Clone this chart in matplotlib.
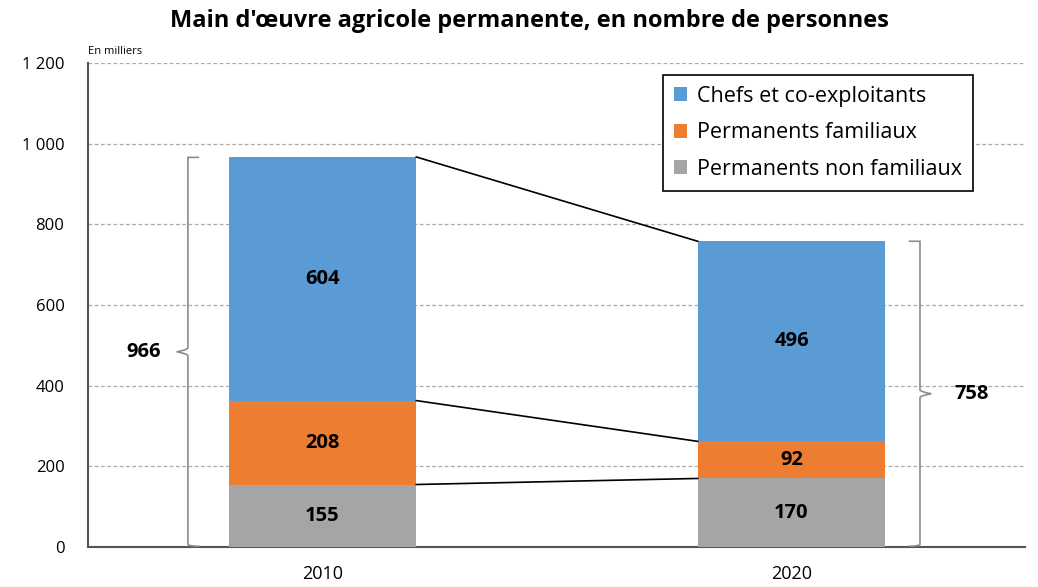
import matplotlib.pyplot as plt
from matplotlib.path import Path
from matplotlib.patches import PathPatch

plt.rcParams['font.family'] = ['Open Sans', 'DejaVu Sans']

years = ['2010', '2020']
chefs = [604, 496]
familiaux = [208, 92]
non_familiaux = [155, 170]
totals = [966, 758]
series_names = ['Chefs et co-exploitants', 'Permanents familiaux', 'Permanents non familiaux']
colors = ['#5B9BD5', '#ED7D31', '#A5A5A5']

fig = plt.figure(figsize=(10.38, 5.87), dpi=100)
ax = fig.add_axes([0.0848, 0.0681, 0.9027, 0.8246])

x = [0, 1]
w = 0.4
b1 = non_familiaux
b2 = [a + b for a, b in zip(non_familiaux, familiaux)]
ax.bar(x, non_familiaux, w, color=colors[2], label=series_names[2], zorder=3)
ax.bar(x, familiaux, w, bottom=b1, color=colors[1], label=series_names[1], zorder=3)
ax.bar(x, chefs, w, bottom=b2, color=colors[0], label=series_names[0], zorder=3)

# valeurs dans les barres
for i in range(2):
    ax.text(x[i], non_familiaux[i] / 2, str(non_familiaux[i]), ha='center', va='center',
            fontsize=14.5, fontweight='bold', zorder=4)
    ax.text(x[i], b1[i] + familiaux[i] / 2, str(familiaux[i]), ha='center', va='center',
            fontsize=14.5, fontweight='bold', zorder=4)
    ax.text(x[i], b2[i] + chefs[i] / 2, str(chefs[i]), ha='center', va='center',
            fontsize=14.5, fontweight='bold', zorder=4)

# lignes de liaison entre les barres
tops0 = [non_familiaux[0], b2[0], b2[0] + chefs[0]]
tops1 = [non_familiaux[1], b2[1], b2[1] + chefs[1]]
for t0, t1 in zip(tops0, tops1):
    ax.plot([x[0] + w / 2, x[1] - w / 2], [t0, t1], color='black', lw=1.2, zorder=4)


def brace(xb, y0, y1, d, tip, cw=5):
    # d : décalage des extrémités (vers la barre), tip : pointe (vers l'extérieur)
    ym = (y0 + y1) / 2
    c = cw
    verts = [(xb + d, y0), (xb, y0), (xb, y0 + c), (xb, y0 + 2 * c),
             (xb, ym - 2 * c), (xb, ym - c), (xb + tip, ym),
             (xb, ym + c), (xb, ym + 2 * c),
             (xb, y1 - 2 * c), (xb, y1 - c), (xb, y1), (xb + d, y1)]
    codes = [Path.MOVETO, Path.CURVE3, Path.CURVE3, Path.LINETO,
             Path.LINETO, Path.CURVE3, Path.CURVE3,
             Path.CURVE3, Path.CURVE3,
             Path.LINETO, Path.CURVE3, Path.CURVE3, Path.LINETO]
    ax.add_patch(PathPatch(Path(verts, codes), fill=False, edgecolor='#8c8c8c', lw=1.2, zorder=4))


brace(-0.287, 2, totals[0], 0.024, -0.024)
brace(1.274, 2, totals[1], -0.024, 0.024)
ax.text(-0.381, totals[0] / 2, str(totals[0]), ha='center', va='center', fontsize=14.5, fontweight='bold')
ax.text(1.385, totals[1] / 2, str(totals[1]), ha='center', va='center', fontsize=14.5, fontweight='bold')

ax.set_xlim(-0.5, 1.498)
ax.set_ylim(0, 1200)
ax.set_xticks(x)
ax.set_xticklabels(years, fontsize=13)
ax.set_yticks(range(0, 1201, 200))
ax.set_yticklabels(['0', '200', '400', '600', '800', '1 000', '1 200'], fontsize=12)
ax.tick_params(axis='x', length=0, pad=13)
ax.tick_params(axis='y', length=0, pad=17)
ax.yaxis.grid(True, linestyle=(0, (3, 2)), color='#aaaaaa', lw=0.9, zorder=0)
for s in ['top', 'right']:
    ax.spines[s].set_visible(False)
ax.spines['left'].set_color('#555555')
ax.spines['left'].set_linewidth(1.5)
ax.spines['bottom'].set_color('#555555')
ax.spines['bottom'].set_linewidth(1.5)

handles, labels = ax.get_legend_handles_labels()
leg = ax.legend(handles[::-1], labels[::-1], loc='upper right', bbox_to_anchor=(0.944, 0.975),
                fontsize=15.5, fancybox=False, edgecolor='black', framealpha=1,
                handlelength=0.6, handleheight=0.6, handletextpad=0.45, labelspacing=0.72,
                borderpad=0.5, borderaxespad=0)
leg.get_frame().set_linewidth(1.2)

fig.text(0.0848, 0.903, 'En milliers', fontsize=8, ha='left', va='bottom')
fig.suptitle("Main d'œuvre agricole permanente, en nombre de personnes", fontsize=17,
             fontweight='bold', x=0.51, y=0.985)

fig.savefig('out.png', dpi=100)
